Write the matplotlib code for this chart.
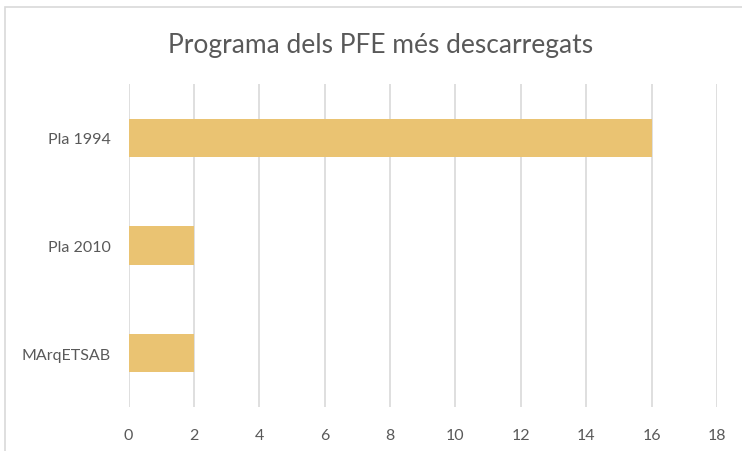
import matplotlib.pyplot as plt
from matplotlib.patches import Rectangle

categories = ['Pla 1994', 'Pla 2010', 'MArqETSAB']
values = [16, 2, 2]
xticks = [0, 2, 4, 6, 8, 10, 12, 14, 16, 18]

plt.rcParams['font.family'] = ['Lato', 'DejaVu Sans']

fig = plt.figure(figsize=(7.42, 4.52), dpi=100)
ax = fig.add_axes([128.5 / 742, 1 - 408 / 452, (717 - 128.5) / 742, (408 - 85) / 452])

# chart border (only left/top visible in the crop)
fig.patches.append(Rectangle((5 / 742, -0.1), 1.2, 1 - 8 / 452 + 0.1,
                             transform=fig.transFigure, fill=False,
                             edgecolor='#d9d9d9', linewidth=1.2))

pos = list(range(len(categories)))
ax.barh(pos, values, height=0.355, color='#eac372', zorder=3)
ax.set_ylim(len(categories) - 0.5, -0.5)
ax.set_yticks(pos)
ax.set_yticklabels(categories)
ax.set_xlim(0, 18)
ax.set_xticks(xticks)

for s in ax.spines.values():
    s.set_visible(False)
ax.grid(axis='x', color='#d9d9d9', linewidth=1.2, zorder=0)
ax.tick_params(axis='both', length=0, colors='#595959', labelsize=11.5)
ax.tick_params(axis='y', pad=13)
ax.tick_params(axis='x', pad=15)

fig.text(381 / 742, 1 - 45 / 452, 'Programa dels PFE més descarregats',
         ha='center', va='center', fontsize=19, color='#595959')

fig.savefig('out.png', dpi=100)
